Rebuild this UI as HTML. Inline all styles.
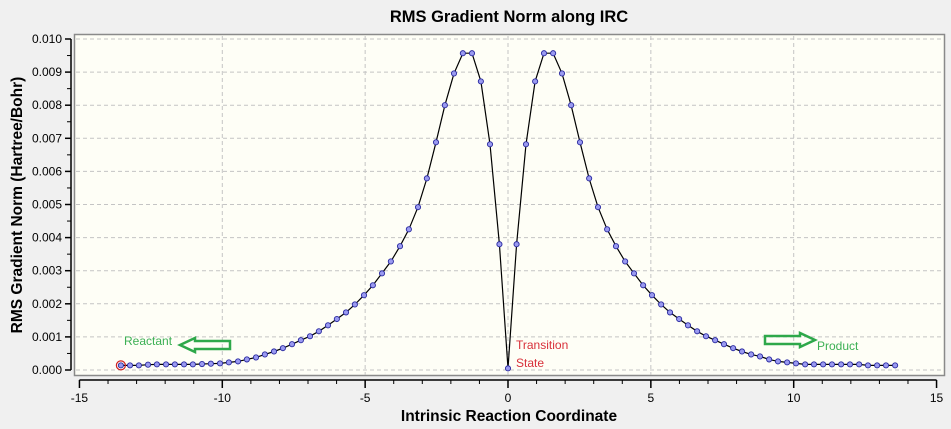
<!DOCTYPE html>
<html><head><meta charset="utf-8"><style>
body{margin:0;background:#f0f0f0;}
svg{display:block;font-family:"Liberation Sans",sans-serif;}
</style></head><body>
<svg id="chart" width="951" height="429" viewBox="0 0 951 429" xmlns="http://www.w3.org/2000/svg">
<rect x="0" y="0" width="951" height="429" fill="#f0f0f0"/>
<text x="509" y="22" text-anchor="middle" font-size="16.5" font-weight="bold" fill="#000">RMS Gradient Norm along IRC</text>
<rect x="74.5" y="34.5" width="870" height="341" fill="#fefef6" stroke="#8a8a8a" stroke-width="1.5"/>
<g id="grid"></g>
<g id="axes"></g>
<g id="series"></g>
<text x="509" y="421" text-anchor="middle" font-size="15.5" font-weight="bold">Intrinsic Reaction Coordinate</text>
<text transform="translate(22,205) rotate(-90)" text-anchor="middle" font-size="15.5" font-weight="bold">RMS Gradient Norm (Hartree/Bohr)</text>
<text x="124" y="345" font-size="12" fill="#3cb054">Reactant</text>
<polygon points="180,345 195,338 195,341 230,341 230,349 195,349 195,352" fill="none" stroke="#2ea84a" stroke-width="2.5"/>
<text x="817" y="350" font-size="12" fill="#3cb054">Product</text>
<polygon points="815,340 800,333 800,336 765,336 765,344 800,344 800,347" fill="none" stroke="#2ea84a" stroke-width="2.5"/>
<text x="516" y="349" font-size="12" fill="#d8303a">Transition</text>
<text x="516" y="367" font-size="12" fill="#d8303a">State</text>
</svg>
<script>
const xTicks=[-15,-10,-5,0,5,10,15];
const yTicks=[0.000,0.001,0.002,0.003,0.004,0.005,0.006,0.007,0.008,0.009,0.010];
const xValues=[-13.55,-13.23,-12.92,-12.6,-12.29,-11.97,-11.66,-11.34,-11.03,-10.71,-10.40,-10.08,-9.77,-9.45,-9.14,-8.82,-8.51,-8.19,-7.88,-7.56,-7.25,-6.93,-6.62,-6.30,-5.99,-5.67,-5.36,-5.04,-4.73,-4.41,-4.10,-3.78,-3.47,-3.15,-2.84,-2.52,-2.21,-1.89,-1.58,-1.26,-0.95,-0.63,-0.30,0,
0.30,0.63,0.95,1.26,1.58,1.89,2.21,2.52,2.84,3.15,3.47,3.78,4.10,4.41,4.73,5.04,5.36,5.67,5.99,6.30,6.62,6.93,7.25,7.56,7.88,8.19,8.51,8.82,9.14,9.45,9.77,10.08,10.40,10.71,11.03,11.34,11.66,11.97,12.29,12.6,12.92,13.23,13.55];
const gradValues=[0.00014,0.00014,0.00014,0.00016,0.00017,0.00017,0.00017,0.00017,0.00017,0.00018,0.00019,0.00020,0.00023,0.00026,0.00032,0.00038,0.00047,0.00056,0.00066,0.00078,0.00090,0.00102,0.00117,0.00135,0.00154,0.00174,0.00198,0.00226,0.00256,0.00292,0.00328,0.00374,0.00425,0.00492,0.00579,0.00688,0.00800,0.00896,0.00957,0.00957,0.00872,0.00682,0.00380,0.00005,
0.00380,0.00682,0.00872,0.00957,0.00957,0.00896,0.00800,0.00688,0.00579,0.00492,0.00425,0.00374,0.00328,0.00292,0.00256,0.00226,0.00198,0.00174,0.00154,0.00135,0.00117,0.00102,0.00090,0.00078,0.00066,0.00056,0.00047,0.00041,0.00032,0.00026,0.00023,0.00020,0.00017,0.00017,0.00017,0.00017,0.00017,0.00017,0.00017,0.00014,0.00014,0.00014,0.00014];

const NS="http://www.w3.org/2000/svg";
function X(v){return 508+v*28.57;}
function Y(v){return 370-v*33100;}
function mk(tag,parent,attrs){const e=document.createElementNS(NS,tag);for(const k in attrs)e.setAttribute(k,attrs[k]);parent.appendChild(e);return e;}
const grid=document.getElementById('grid'),axes=document.getElementById('axes'),ser=document.getElementById('series');

xTicks.forEach(t=>{
  if(t>-15&&t<15){const l=mk('line',grid,{x1:X(t),x2:X(t),y1:36,y2:375,stroke:'#c4c4c4','stroke-dasharray':'4,3'});
  
  }
  const tk=mk('line',axes,{x1:X(t),x2:X(t),y1:380,y2:388,stroke:'#000','stroke-width':1.5});
  
  
  const tx=mk('text',axes,{x:X(t),y:402,'text-anchor':'middle','font-size':12});
  tx.textContent=t;
  
  
});
for(let v=-15;v<=15;v++){
  if(v%5!==0){const m=mk('line',axes,{x1:X(v),x2:X(v),y1:380,y2:384,stroke:'#000'});
  
  }
}
mk('line',axes,{x1:X(-15),x2:X(15),y1:380,y2:380,stroke:'#000','stroke-width':1.5});
yTicks.forEach((t,i)=>{
  const l=mk('line',grid,{x1:76,x2:943,y1:Y(t),y2:Y(t),stroke:'#c4c4c4','stroke-dasharray':'4,3'});
  
  
  const tk=mk('line',axes,{x1:65,x2:71,y1:Y(t),y2:Y(t),stroke:'#000','stroke-width':1.5});
  
  
  const tx=mk('text',axes,{x:62,y:Y(t)+4,'text-anchor':'end','font-size':12});
  tx.textContent=t.toFixed(3);
  
  
  if(i<yTicks.length-1){const m=mk('line',axes,{x1:67,x2:71,y1:Y(t+0.0005),y2:Y(t+0.0005),stroke:'#000'});
  
  }
});
mk('line',axes,{x1:71,x2:71,y1:Y(0.010),y2:Y(0),stroke:'#000','stroke-width':1.5});

const pts=xValues.map((x,i)=>[X(x),Y(gradValues[i])]);
const path=mk('polyline',ser,{points:pts.map(p=>p[0].toFixed(1)+','+p[1].toFixed(1)).join(' '),fill:'none',stroke:'#000','stroke-width':1.2});


pts.forEach((p,i)=>{
  const c=mk('circle',ser,{cx:p[0],cy:p[1],r:2.6,fill:'#9a9af0',stroke:'#2a2aa0','stroke-width':0.9});
  
  
});
const sel=mk('circle',ser,{cx:pts[0][0],cy:pts[0][1],r:4.5,fill:'none',stroke:'#d02020','stroke-width':1.2});


</script>
</body></html>
